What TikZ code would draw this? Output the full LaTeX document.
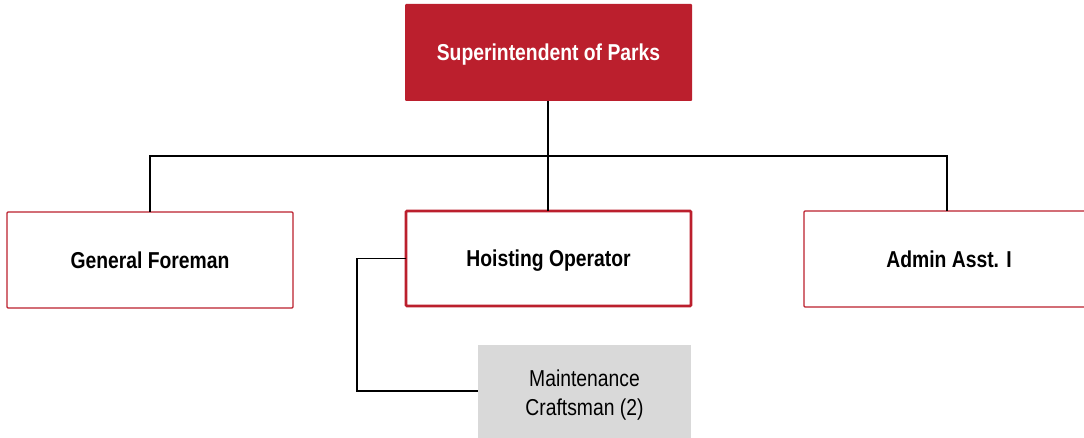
\documentclass[tikz,border=0pt]{standalone}
\usepackage{fontspec}
\setmainfont{Liberation Sans}[FakeStretch=0.84]
\definecolor{parkred}{HTML}{BB1F2D}
\definecolor{boxgray}{HTML}{D9D9D9}
\begin{document}
\begin{tikzpicture}[x=1pt,y=-1pt,
  every node/.style={outer sep=0pt, inner sep=0pt},
  title/.style={text height=16.5pt, text depth=0pt,
    font=\fontsize{23}{28}\selectfont\bfseries},
  head/.style={title, fill=parkred, draw=none, rounded corners=1pt, text=white},
  unit/.style={title, draw=parkred, line width=1.3pt, fill=white, rounded corners=1pt},
  staff/.style={fill=boxgray, draw=none, align=center,
    font=\fontsize{23}{29}\selectfont},
  link/.style={black, line width=1.4pt}]
\useasboundingbox (0,0) rectangle (1084,438);
% boxes, given by corners
\node[head, minimum width=287pt, minimum height=97pt, anchor=north west] (sup) at (405,4) {Superintendent of Parks};
\node[unit, minimum width=286pt, minimum height=96pt, anchor=north west] (gf) at (7,212) {General Foreman};
\node[unit, line width=2.8pt, minimum width=285pt, minimum height=95pt, anchor=north west] (ho) at (406,211) {Hoisting Operator};
\node[unit, minimum width=290pt, minimum height=96pt, anchor=north west] (aa) at (804,211) {Admin Asst. I};
\node[staff, minimum width=213pt, minimum height=100pt, anchor=north west] (mc) at (478,345) {Maintenance\\Craftsman (2)};
% connectors
\coordinate (bus) at (548,156);
\draw[link] (bus |- sup.south) -- (bus);
\draw[link] (gf.north -| 150,0) |- (bus) -| (aa.north -| 947,0);
\draw[link] (bus) -- (bus |- ho.north);
\draw[link] (ho.west) -| (357,300) |- (mc.west |- 0,391);
\end{tikzpicture}
\end{document}
